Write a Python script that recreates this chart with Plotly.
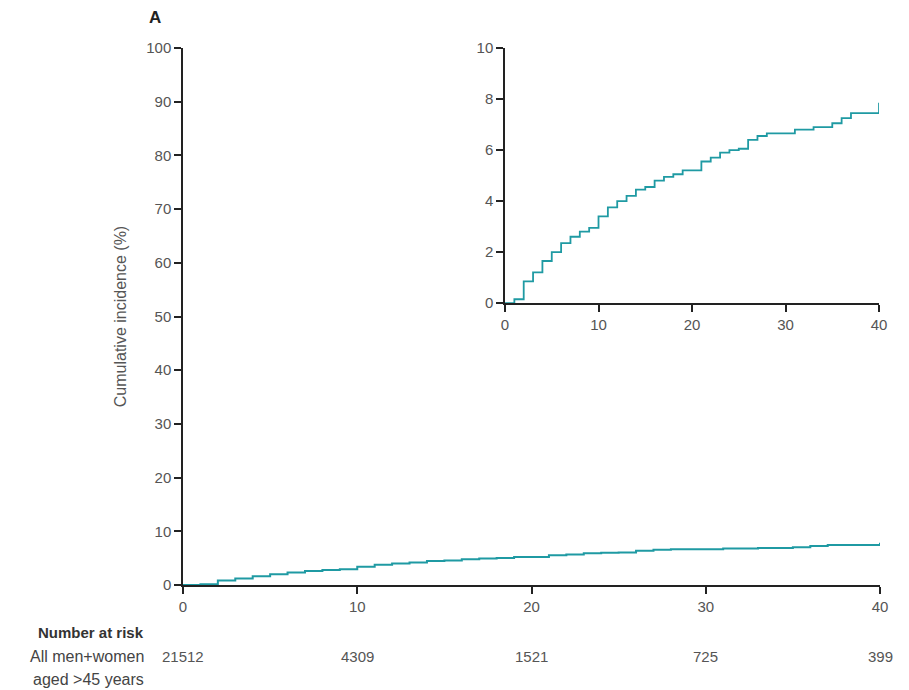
import plotly.graph_objects as go

# Cumulative incidence step data (years, %)
times = [0, 1, 2, 3, 4, 5, 6, 7, 8, 9, 10, 11, 12, 13, 14, 15, 16, 17, 18, 19,
         21, 22, 23, 24, 25, 26, 27, 28, 31, 33, 35, 36, 37, 40, 40]
incidence = [0, 0.15, 0.85, 1.2, 1.65, 2.0, 2.35, 2.6, 2.8, 2.95, 3.4, 3.75, 4.0, 4.2,
             4.45, 4.55, 4.8, 4.95, 5.05, 5.2, 5.55, 5.7, 5.9, 6.0, 6.05, 6.4, 6.55,
             6.65, 6.8, 6.9, 7.05, 7.25, 7.45, 7.45, 7.85]

risk_times = [0, 10, 20, 30, 40]
risk_counts = ["21512", "4309", "1521", "725", "399"]

main_yticks = [0, 10, 20, 30, 40, 50, 60, 70, 80, 90, 100]
inset_yticks = [0, 2, 4, 6, 8, 10]
xticks = [0, 10, 20, 30, 40]

LINE = "#1f9aa3"
FONT = "Liberation Sans"
TICKCOL = "#555555"

fig = go.Figure()
fig.add_trace(go.Scatter(x=times, y=incidence, mode="lines", line=dict(color=LINE, width=2, shape="hv"),
                         xaxis="x", yaxis="y", showlegend=False, hoverinfo="skip"))
fig.add_trace(go.Scatter(x=times, y=incidence, mode="lines", line=dict(color=LINE, width=1.8, shape="hv"),
                         xaxis="x2", yaxis="y2", showlegend=False, hoverinfo="skip"))

axis_common = dict(showgrid=False, zeroline=False, showline=True, linecolor="#222222", linewidth=1.5,
                   ticks="outside", ticklen=7, tickwidth=1.5, tickcolor="#222222",
                   tickfont=dict(family=FONT, size=15, color=TICKCOL))

fig.update_layout(
    width=909, height=690,
    margin=dict(l=183, r=29, t=48, b=105),
    paper_bgcolor="white", plot_bgcolor="white",
    xaxis=dict(domain=[0, 1], range=[0, 40], tickvals=xticks, anchor="y", **axis_common),
    yaxis=dict(domain=[0, 1], range=[0, 100], tickvals=main_yticks, anchor="x",
               title=dict(text="Cumulative incidence (%)", font=dict(family=FONT, size=16, color=TICKCOL), standoff=16),
               **axis_common),
    xaxis2=dict(domain=[0.462, 0.9986], range=[0, 40], tickvals=xticks, anchor="y2", **axis_common),
    yaxis2=dict(domain=[0.525, 1.0], range=[0, 10], tickvals=inset_yticks, anchor="x2", **axis_common),
)

def py(pix):
    return (585 - pix) / 537

def px(pix):
    return (pix - 183) / 697

fig.add_annotation(text="<b>A</b>", xref="paper", yref="paper",
                   x=px(155), y=py(18), showarrow=False,
                   font=dict(family=FONT, size=17, color="#222222"), xanchor="center", yanchor="middle")

fig.add_annotation(text="<b>Number at risk</b>", xref="paper", yref="paper",
                   x=px(146), y=py(632), showarrow=False, xanchor="right", yanchor="middle",
                   font=dict(family=FONT, size=15, color="#333333"))
fig.add_annotation(text="All men+women", xref="paper", yref="paper",
                   x=px(146), y=py(656), showarrow=False, xanchor="right", yanchor="middle",
                   font=dict(family=FONT, size=16, color="#444444"))
fig.add_annotation(text="aged >45 years", xref="paper", yref="paper",
                   x=px(146), y=py(679), showarrow=False, xanchor="right", yanchor="middle",
                   font=dict(family=FONT, size=16, color="#444444"))
for t, c in zip(risk_times, risk_counts):
    fig.add_annotation(text=c, xref="x", yref="paper", x=t, y=py(656), showarrow=False,
                       xanchor="center", yanchor="middle",
                       font=dict(family=FONT, size=15, color=TICKCOL))

fig.write_html("out.html")
